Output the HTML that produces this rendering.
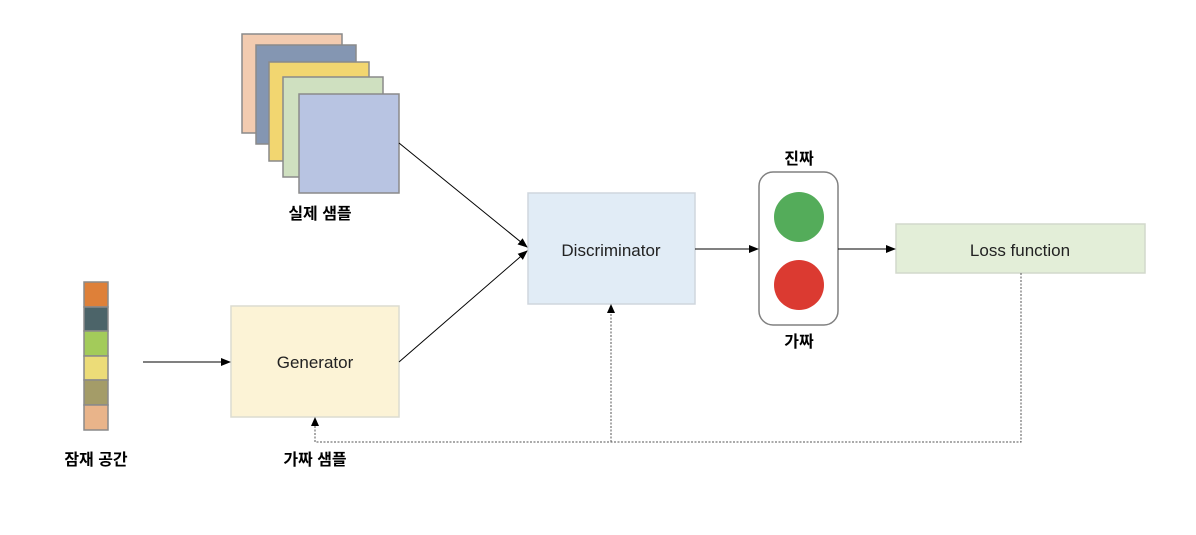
<!DOCTYPE html>
<html><head><meta charset="utf-8"><style>
body{margin:0;background:#fff;}
svg text{font-family:"Liberation Sans","Noto Sans CJK KR",sans-serif;}
</style></head><body>
<svg width="1196" height="530" viewBox="0 0 1196 530" xmlns="http://www.w3.org/2000/svg">
<defs><marker id="a" markerWidth="10" markerHeight="8" refX="9" refY="4" orient="auto" markerUnits="userSpaceOnUse"><path d="M0,0 L10,4 L0,8 z" fill="#000"/></marker></defs>
<rect width="1196" height="530" fill="#fff"/>
<g stroke="#8a8a8a" stroke-width="1.5">
<rect x="242" y="34" width="100" height="99" fill="#f2cbb0"/>
<rect x="256" y="45" width="100" height="99" fill="#8496b2"/>
<rect x="269" y="62" width="100" height="99" fill="#f2d670"/>
<rect x="283" y="77" width="100" height="100" fill="#cfe0c0"/>
<rect x="299" y="94" width="100" height="99" fill="#b8c4e2"/>
</g>
<text x="320" y="219" font-size="16" font-weight="bold" text-anchor="middle">실제 샘플</text>
<g stroke="#8a8a8a" stroke-width="1.5">
<rect x="84" y="282" width="24" height="25" fill="#de8039"/>
<rect x="84" y="307" width="24" height="24" fill="#4c6469"/>
<rect x="84" y="331" width="24" height="25" fill="#a3cb5a"/>
<rect x="84" y="356" width="24" height="24" fill="#ecdc78"/>
<rect x="84" y="380" width="24" height="25" fill="#a49c68"/>
<rect x="84" y="405" width="24" height="25" fill="#e9b48a"/>
</g>
<text x="96" y="465" font-size="16" font-weight="bold" text-anchor="middle">잠재 공간</text>
<rect x="231" y="306" width="168" height="111" fill="#fcf3d6" stroke="#dcdcd0" stroke-width="1.5"/>
<text x="315" y="368" font-size="17" text-anchor="middle" fill="#222">Generator</text>
<text x="315" y="465" font-size="16" font-weight="bold" text-anchor="middle">가짜 샘플</text>
<rect x="528" y="193" width="167" height="111" fill="#e1ecf6" stroke="#cfd6dd" stroke-width="1.5"/>
<text x="611" y="256" font-size="17" text-anchor="middle" fill="#222">Discriminator</text>
<rect x="759" y="172" width="79" height="153" rx="14" fill="#fff" stroke="#808080" stroke-width="1.5"/>
<circle cx="799" cy="217" r="25" fill="#54ac5a"/>
<circle cx="799" cy="285" r="25" fill="#db3a31"/>
<text x="799" y="164" font-size="16" font-weight="bold" text-anchor="middle">진짜</text>
<text x="799" y="347" font-size="16" font-weight="bold" text-anchor="middle">가짜</text>
<rect x="896" y="224" width="249" height="49" fill="#e3eed8" stroke="#d2d8cc" stroke-width="1.5"/>
<text x="1020" y="256" font-size="17" text-anchor="middle" fill="#222">Loss function</text>
<g stroke="#000" stroke-width="1" fill="none">
<line x1="143" y1="362" x2="230" y2="362" marker-end="url(#a)"/>
<line x1="399" y1="143" x2="527" y2="247" marker-end="url(#a)"/>
<line x1="399" y1="362" x2="527" y2="251" marker-end="url(#a)"/>
<line x1="695" y1="249" x2="758" y2="249" marker-end="url(#a)"/>
<line x1="838" y1="249" x2="895" y2="249" marker-end="url(#a)"/>
</g>
<g stroke="#555" stroke-width="1" fill="none" stroke-dasharray="2,1.5">
<polyline points="1021,273 1021,442 315,442 315,420"/>
<line x1="611" y1="442" x2="611" y2="307"/>
</g>
<path d="M315,417 L311,426 L319,426 z" fill="#000"/>
<path d="M611,304 L607,313 L615,313 z" fill="#000"/>
</svg>
</body></html>
